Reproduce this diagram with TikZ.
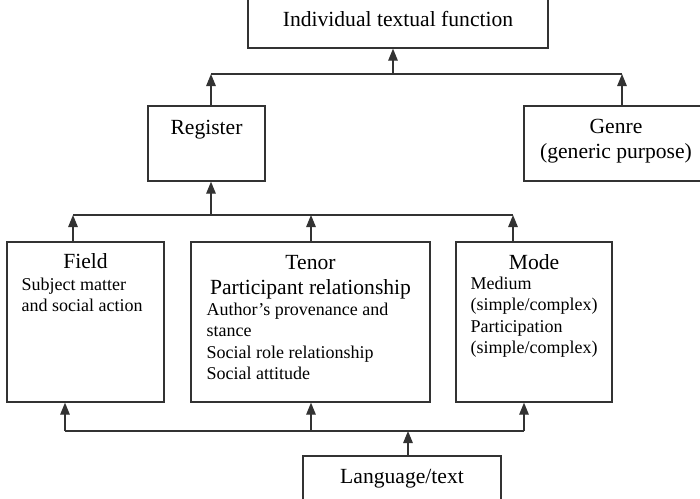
\documentclass[tikz,border=0pt]{standalone}
\usepackage{fontspec}
\setmainfont{Liberation Serif}
\usetikzlibrary{arrows.meta}
\tikzset{
  box/.style={draw=black!80, inner sep=0pt},
  titletext/.style={inner sep=0pt, anchor=base, align=center, font=\fontsize{21.6}{25}\selectfont},
  bodytext/.style={inner sep=0pt, anchor=base west, align=left, font=\fontsize{18}{21.3}\selectfont},
  arr/.style={draw=black!80, -{Triangle[length=12pt,width=9.5pt]}},
  busline/.style={draw=black!80},
}
\begin{document}
\begin{tikzpicture}[x=1pt, y=-1pt, line width=1.3pt]
    \useasboundingbox (0,0) rectangle (700,498);

    % Boxes
    \node[box, minimum width=300, minimum height=60] (func) at (398,18) {};
    \node[box, minimum width=117, minimum height=75] (reg) at (206.5,143.5) {};
    \node[box, minimum width=184, minimum height=75] (genre) at (616,143.5) {};
    \node[box, minimum width=157, minimum height=160] (field) at (85.5,322) {};
    \node[box, minimum width=239, minimum height=160] (tenor) at (310.5,322) {};
    \node[box, minimum width=156, minimum height=160] (mode) at (534,322) {};
    \node[box, minimum width=198, minimum height=44] (lang) at (402,478) {};

    % Labels (base = last line)
    \node[titletext] (functxt) at (398,26.5) {Individual textual function};
    \node[titletext] (regtxt) at (206.5,134) {Register};
    \node[titletext] (genretxt) at (616,158) {Genre\\(generic purpose)};
    \node[titletext] (fieldtxt) at (85.5,268.5) {Field};
    \node[titletext] (tenortxt) at (310.5,294) {Tenor\\Participant relationship};
    \node[titletext] (modetxt) at (534,269) {Mode};
    \node[titletext] (langtxt) at (402,483) {Language/text};

    % Box contents
    \node[bodytext] (fieldbody) at (21,311.3) {Subject matter\\and social action};
    \node[bodytext] (tenorbody) at (206,379.4) {Author's provenance and\\stance\\Social role relationship\\Social attitude};
    \node[bodytext] (modebody) at (470,353.4) {Medium\\(simple/complex)\\Participation\\(simple/complex)};

    % Upper connections
    \coordinate (upL) at (211,74);
    \coordinate (upM) at (393,74);
    \coordinate (upR) at (622,74);
    \draw[busline] (upL) -- (upR);
    \draw[arr] (upM) -- (upM |- func.south);
    \draw[arr] (upL |- reg.north) -- (upL);
    \draw[arr] (upR |- genre.north) -- (upR);

    % Middle connections
    \coordinate (midL) at (73,215);
    \coordinate (midReg) at (211,215);
    \coordinate (midTen) at (311,215);
    \coordinate (midR) at (513,215);
    \draw[busline] (midL) -- (midR);
    \draw[arr] (midReg) -- (midReg |- reg.south);
    \draw[arr] (midL |- field.north) -- (midL);
    \draw[arr] (midTen |- tenor.north) -- (midTen);
    \draw[arr] (midR |- mode.north) -- (midR);

    % Lower connections
    \coordinate (lowL) at (65,431);
    \coordinate (lowTen) at (311,431);
    \coordinate (lowLang) at (408,431);
    \coordinate (lowR) at (524,431);
    \draw[busline] (lowL) -- (lowR);
    \draw[arr] (lowL) -- (lowL |- field.south);
    \draw[arr] (lowTen) -- (lowTen |- tenor.south);
    \draw[arr] (lowR) -- (lowR |- mode.south);
    \draw[arr] (lowLang |- lang.north) -- (lowLang);

\end{tikzpicture}
\end{document}
